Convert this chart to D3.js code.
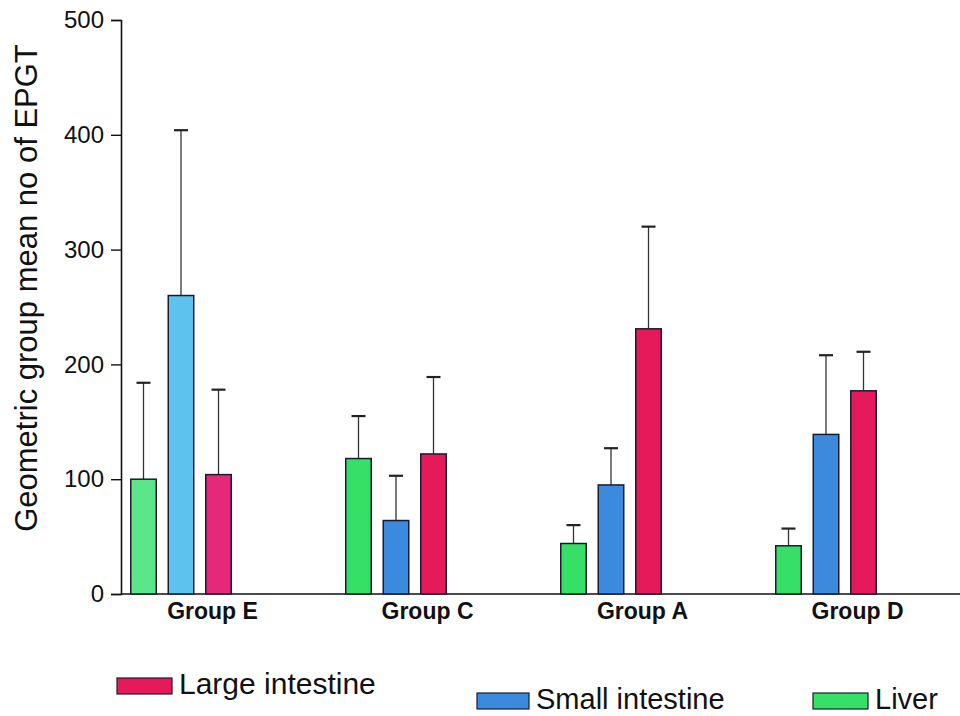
<!DOCTYPE html>
<html>
<head>
<meta charset="UTF-8">
<script src="https://d3js.org/d3.v7.min.js"></script>
<style>
  body { margin: 0; background: #fff; }
  svg text { font-family: Arial, "Liberation Sans", sans-serif; fill: #111; }
</style>
</head>
<body>
<svg></svg>
<script>

var groups = ["Group E", "Group C", "Group A", "Group D"];
var series = ["Liver", "Small intestine", "Large intestine"];
var liverMean = [100, 118, 44, 42];
var liverUpper = [184, 155, 60, 57];
var smallMean = [260, 64, 95, 139];
var smallUpper = [404, 103, 127, 208];
var largeMean = [104, 122, 231, 177];
var largeUpper = [178, 189, 320, 211];
var yTicks = [0, 100, 200, 300, 400, 500];

var colors = {"Liver": "#36e066", "Small intestine": "#3b8ade", "Large intestine": "#e6195a"};
// group E bars are printed in lighter tints
var tintE = {"Liver": "#5ce68a", "Small intestine": "#5ec2ee", "Large intestine": "#e6287a"};

var width = 960, height = 716;

var svg = d3.select("svg")
    .attr("width", width)
    .attr("height", height);

// build rows
var means = [liverMean, smallMean, largeMean];
var uppers = [liverUpper, smallUpper, largeUpper];
var rows = [];
groups.forEach(function(g, gi) {
  series.forEach(function(s, si) {
    rows.push({group: g, series: s, mean: means[si][gi], upper: uppers[si][gi]});
  });
});

var y = d3.scaleLinear().domain([0, 500]).range([594, 20]);

var x0 = d3.scaleBand().domain(groups).range([105, 965]).padding(0);
var x1 = d3.scaleBand().domain(series).range([22, 130]).paddingInner(0.32).paddingOuter(0.1);

// y axis
var yAxis = svg.append("g")
    .attr("transform", "translate(121,0)")
    .call(d3.axisLeft(y).tickValues(yTicks).tickSize(10).tickPadding(7));
yAxis.select(".domain").attr("stroke", "#111").attr("stroke-width", 1.6);
yAxis.selectAll(".tick line").attr("stroke", "#111").attr("stroke-width", 1.4);
yAxis.selectAll(".tick text")
    .style("font-size", "24px")
    .style("font-family", "Arial, 'Liberation Sans', sans-serif")
    .attr("fill", "#111");

// x axis line
svg.append("line")
    .attr("x1", 121).attr("x2", 960)
    .attr("y1", y(0)).attr("y2", y(0))
    .attr("stroke", "#111").attr("stroke-width", 1.6);

// group labels
svg.selectAll("text.glabel")
    .data(groups)
    .enter().append("text")
    .attr("class", "glabel")
    .attr("x", function(d) { return x0(d) + x0.bandwidth() / 2; })
    .attr("y", 619)
    .attr("text-anchor", "middle")
    .style("font-size", "23px")
    .style("font-weight", "bold")
    .text(function(d) { return d; });

// y label
svg.append("text")
    .attr("transform", "translate(37," + 288 + ") rotate(-90)")
    .attr("text-anchor", "middle")
    .style("font-size", "31px")
    .text("Geometric group mean no of EPGT");

// error bars (drawn first so bars sit on top)
var err = svg.append("g").selectAll("g")
    .data(rows)
    .enter().append("g");

err.append("line")
    .attr("x1", function(d) { return x0(d.group) + x1(d.series) + x1.bandwidth() / 2; })
    .attr("x2", function(d) { return x0(d.group) + x1(d.series) + x1.bandwidth() / 2; })
    .attr("y1", function(d) { return y(d.mean); })
    .attr("y2", function(d) { return y(d.upper); })
    .attr("stroke", "#333")
    .attr("stroke-width", 1.3);

err.append("line")
    .attr("x1", function(d) { return x0(d.group) + x1(d.series) + x1.bandwidth() / 2 - 7; })
    .attr("x2", function(d) { return x0(d.group) + x1(d.series) + x1.bandwidth() / 2 + 7; })
    .attr("y1", function(d) { return y(d.upper); })
    .attr("y2", function(d) { return y(d.upper); })
    .attr("stroke", "#222")
    .attr("stroke-width", 2.2);

// bars
svg.append("g").selectAll("rect")
    .data(rows)
    .enter().append("rect")
    .attr("x", function(d) { return x0(d.group) + x1(d.series); })
    .attr("y", function(d) { return y(d.mean); })
    .attr("width", x1.bandwidth())
    .attr("height", function(d) { return y(0) - y(d.mean); })
    .attr("fill", function(d) { return d.group == "Group E" ? tintE[d.series] : colors[d.series]; })
    .attr("stroke", "#1b1b2e")
    .attr("stroke-width", 1.5);

// legend
var legendItems = [
  {name: "Large intestine", x: 117, y: 678, w: 55, fs: 30},
  {name: "Small intestine", x: 477, y: 693, w: 52, fs: 29},
  {name: "Liver", x: 813, y: 693, w: 55, fs: 29}
];

var legend = svg.selectAll("g.legend")
    .data(legendItems)
    .enter().append("g")
    .attr("class", "legend")
    .attr("transform", function(d) { return "translate(" + d.x + "," + d.y + ")"; });

legend.append("rect")
    .attr("width", function(d) { return d.w; })
    .attr("height", 16)
    .attr("fill", function(d) { return colors[d.name]; })
    .attr("stroke", "#1b1b2e")
    .attr("stroke-width", 1.2);

legend.append("text")
    .attr("x", function(d) { return d.w + 7; })
    .attr("y", 16)
    .style("font-size", function(d) { return d.fs + "px"; })
    .text(function(d) { return d.name; });

</script>
</body>
</html>
